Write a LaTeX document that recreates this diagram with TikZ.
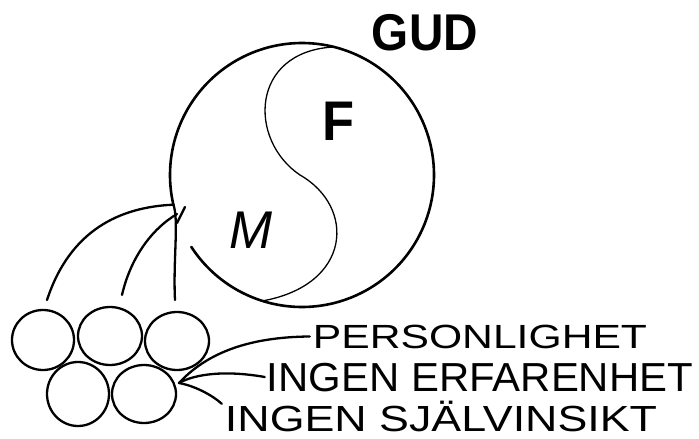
\documentclass[tikz,border=0pt]{standalone}
\usepackage{fontspec}
\setmainfont{Liberation Sans}
\usetikzlibrary{shapes.geometric,calc}
\newcommand{\fitlbl}[3]{\resizebox{#1}{#2}{\raisebox{0pt}[0.716em][0pt]{#3}}}
\begin{document}
\begin{tikzpicture}[x=1pt,y=-1pt,
  bigline/.style={line width=2.6pt,line cap=round,line join=round},
  sline/.style={line width=1.3pt,line cap=round},
  conn/.style={line width=2.3pt,line cap=round},
  blob/.style={ellipse,draw,line width=2.3pt,inner sep=0pt},
  lbl/.style={inner sep=0pt,anchor=center}]
\useasboundingbox[fill=white] (0,0) rectangle (699,439);
% big circle with gap at lower left
\draw[bigline] plot[domain=147:-193,samples=140,smooth] ({302+132*cos(\x)},{175+132*sin(\x)});
\coordinate (J) at (173.4,204.7);
% S curve
\coordinate (St) at (333,47);
\coordinate (Sm) at (300,175);
\coordinate (Sb) at (262,301);
\draw[sline] (St) .. controls (250,52) and (248,140) .. (Sm)
  .. controls (356,207) and (352,285) .. (Sb);
% texts in circle
\node[lbl] (gud) at (425,32) {\fitlbl{106pt}{37pt}{\bfseries GUD}};
\node[lbl] (f) at (339,120) {\fitlbl{32pt}{40pt}{\bfseries F}};
\node[lbl] (m) at (251,229) {\fitlbl{43pt}{38pt}{\itshape M}};
% small circles
\node[blob,minimum width=62pt,minimum height=60pt] (c1) at (43,340) {};
\node[blob,minimum width=64pt,minimum height=58pt] (c2) at (110,336) {};
\node[blob,minimum width=64pt,minimum height=58pt] (c3) at (177,341) {};
\node[blob,minimum width=62pt,minimum height=64pt] (c4) at (78,394) {};
\node[blob,minimum width=64pt,minimum height=58pt] (c5) at (144,394) {};
% stems
\coordinate (e1) at (47,300);
\coordinate (e2) at (122,295);
\coordinate (e3) at (175,300);
\coordinate (k2) at (177,214);
\coordinate (t1) at (185,207);
\coordinate (t2) at (177,223);
\draw[conn] (e1) .. controls (70,230) and (120,207) .. (J);
\draw[conn] (e2) .. controls (130,260) and (150,230) .. (k2);
\draw[conn] (J) .. controls (179,220) and (173,260) .. (e3);
\draw[conn] (t1) -- (t2);
% labels
\node[lbl] (l1) at (480,336.5) {\fitlbl{334pt}{24pt}{PERSONLIGHET}};
\node[lbl] (l2) at (480,377) {\fitlbl{426pt}{29pt}{INGEN ERFARENHET}};
\node[lbl] (l3) at (441,418) {\fitlbl{432pt}{26pt}{INGEN SJÄLVINSIKT}};
\coordinate (P) at (179,383);
\draw[conn] (P) .. controls (205,355) and (245,337) .. ([xshift=-3pt]l1.west);
\draw[conn] (P) .. controls (195,374) and (225,370) .. ([xshift=-2pt]l2.west);
\draw[conn] (P) .. controls (195,386) and (212,395) .. ([shift={(-3,-1)}]l3.north west);
\end{tikzpicture}
\end{document}
